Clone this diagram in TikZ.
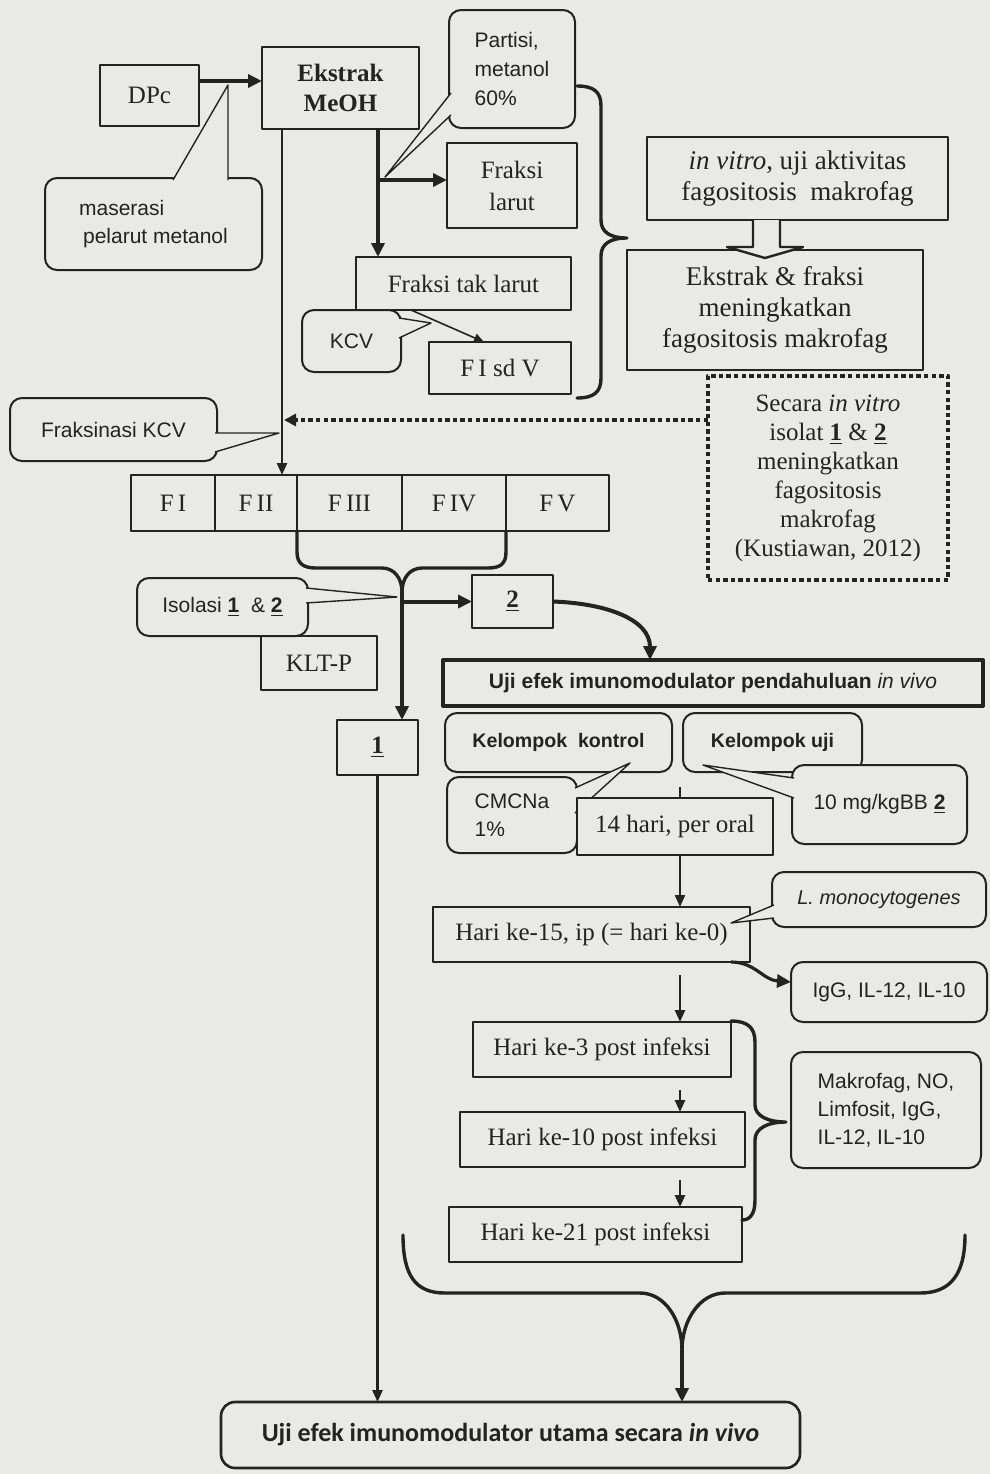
\documentclass[tikz,border=0pt]{standalone}
\usepackage{fontspec}
\setmainfont{Liberation Serif}
\setsansfont{Liberation Sans}
\newfontfamily\carlito{Carlito}
\usetikzlibrary{positioning,arrows.meta}
\definecolor{paper}{RGB}{233,233,231}
\definecolor{ink}{RGB}{35,35,35}
\newcommand\calltail[3]{\fill[paper] #1 -- #2 -- #3 -- cycle; \draw[tailline] #1 -- #2 -- #3;}

\begin{document}
\begin{tikzpicture}[x=0.5pt, y=-0.5pt, line join=round, node distance=0pt,
  every node/.style={inner sep=1pt, outer sep=0pt, align=center, text=ink},
  wh/.style 2 args={minimum width=#1*0.5pt, minimum height=#2*0.5pt},
  box/.style={rectangle, draw=ink, line width=1pt, fill=paper, font=\fontsize{12.5}{15}\selectfont},
  bigbox/.style={box, font=\fontsize{13.5}{15.5}\selectfont},
  note/.style={box, rounded corners=6pt, font=\sffamily\fontsize{10.5}{14}\selectfont},
  bnote/.style={note, font=\sffamily\bfseries\fontsize{9.8}{12}\selectfont},
  dots/.style={draw=ink, line width=2.3pt, dash pattern=on 2.2pt off 1.6pt},
  fatarrow/.style={draw=ink, line width=2pt, -{Triangle[length=7pt,width=6.5pt]}},
  midarrow/.style={draw=ink, line width=1.3pt, -{Triangle[length=6pt,width=5pt]}},
  slimarrow/.style={draw=ink, line width=0.8pt, -{Triangle[length=5pt,width=4.5pt]}},
  bracepath/.style={draw=ink, line width=1.7pt, line cap=round},
  tailline/.style={draw=ink, line width=0.7pt}]
  \fill[paper] (0,0) rectangle (990,1474);
  \useasboundingbox (0,0) rectangle (990,1474);

  \node[box, wh={99}{61}] (dpc) at (149.5,95.5) {DPc};
  \node[box, wh={157}{82}, font=\bfseries\fontsize{12.5}{15}\selectfont] (ekstrak) at (340.5,88) {Ekstrak\\MeOH};
  \node[note, wh={217}{92}, align=left] (maser) at (153.5,224) {maserasi\\\hspace*{2pt}pelarut metanol};
  \calltail{(173,180)}{(228,85)}{(228,180)}
  \node[note, wh={126}{118}, align=left, font=\sffamily\fontsize{10.5}{14.5}\selectfont] (partisi) at (512,69) {Partisi,\\metanol\\60\%};
  \calltail{(451,93)}{(385,177)}{(451,115)}
  \node[box, wh={130}{85}, font=\fontsize{12.5}{16}\selectfont] (flarut) at (512,185.5) {Fraksi\\larut};
  \node[box, wh={215}{53}] (ftak) at (463.5,283.5) {Fraksi tak larut};
  \node[note, wh={99}{62}] (kcv) at (351.5,341) {KCV};
  \calltail{(399,318)}{(431,323)}{(399,338)}
  \node[box, wh={142}{52}] (fsd) at (500,368) {F\,I sd V};

  \node[bigbox, wh={301}{83}] (invitro) at (797.5,178.5) {\textit{in vitro}, uji aktivitas\\fagositosis\ \ makrofag};
  \node[bigbox, wh={296}{120}] (ekfr) at (775,310) {Ekstrak \& fraksi\\meningkatkan\\fagositosis makrofag};
  \draw[line width=1.2pt, draw=ink, fill=paper] (753,220) -- (753,247) -- (727,247) -- (765,258) -- (803,247) -- (780,247) -- (780,220);
  \node[box, dots, wh={240}{204}, font=\fontsize{12.5}{14.5}\selectfont] (dotbox) at (828,478) {Secara \textit{in vitro}\\isolat \underline{\textbf{1}} \& \underline{\textbf{2}}\\meningkatkan\\fagositosis\\makrofag\\(Kustiawan, 2012)};

  \node[note, wh={207}{63}] (fkcv) at (113.5,429.5) {Fraksinasi KCV};
  \calltail{(215,433)}{(279,433)}{(215,452)}

  \node[box, wh={84}{56}] (f1) at (173,503) {F\,I};
  \node[box, wh={82}{56}, right=of f1] (f2) {F\,II};
  \node[box, wh={105}{56}, right=of f2] (f3) {F\,III};
  \node[box, wh={104}{56}, right=of f3] (f4) {F\,IV};
  \node[box, wh={103}{56}, right=of f4] (f5) {F\,V};

  \node[box, wh={116}{54}] (klt) at (319,663) {KLT-P};
  \node[note, wh={171}{58}] (isol) at (222.5,607) {Isolasi \underline{\textbf{1}}\ \ \& \underline{\textbf{2}}};
  \calltail{(306,588)}{(397,597)}{(306,603)}
  \node[box, wh={81}{53}] (two) at (512.5,601.5) {\underline{\textbf{2}}};
  \node[box, wh={81}{55}] (one) at (377.5,747.5) {\underline{\textbf{1}}};

  \node[box, line width=2pt, wh={540}{46}, font=\sffamily\bfseries\fontsize{10.5}{12}\selectfont] (pend) at (713,683) {Uji efek imunomodulator pendahuluan {\mdseries\itshape in vivo}};
  \node[bnote, wh={227}{59}] (kk) at (558.5,742.5) {Kelompok\ \ kontrol};
  \node[bnote, wh={179}{59}] (ku) at (772.5,742.5) {Kelompok uji};
  \node[note, wh={130}{76}, align=left] (cmc) at (512,815) {CMCNa\\1\%};
  \calltail{(575,788)}{(630,763)}{(575,813)}
  \node[note, wh={175}{79}] (dose) at (879.5,804.5) {10 mg/kgBB \underline{\textbf{2}}};
  \calltail{(794,778)}{(703,765)}{(794,798)}
  \node[box, wh={317}{55}] (h15) at (591.5,934.5) {Hari ke-15, ip (= hari ke-0)};
  \coordinate (stem) at (680,787);
  \draw[midarrow] (stem) -- (stem |- h15.north);
  \node[box, wh={196}{57}] (oral) at (675,826.5) {14 hari, per oral};
  \node[note, wh={214}{55}, font=\sffamily\itshape\fontsize{10}{12}\selectfont] (lmono) at (879,899.5) {L. monocytogenes};
  \calltail{(774,905)}{(731,923)}{(774,918)}
  \node[note, wh={196}{60}] (igg) at (889,992) {IgG, IL-12, IL-10};
  \node[box, wh={258}{55}] (h3) at (602,1049.5) {Hari ke-3 post infeksi};
  \node[box, wh={285}{55}] (h10) at (602.5,1139.5) {Hari ke-10 post infeksi};
  \node[box, wh={293}{55}] (h21) at (595.5,1234.5) {Hari ke-21 post infeksi};
  \node[note, wh={190}{116}, align=left] (makro) at (886,1110) {Makrofag, NO,\\Limfosit, IgG,\\IL-12, IL-10};
  \node[note, line width=1.3pt, rounded corners=7pt, wh={579}{66}, font=\carlito\bfseries\fontsize{13}{15}\selectfont] (utama) at (510.5,1435) {Uji efek imunomodulator utama secara \textit{in vivo}};

  \coordinate (inlet) at (230,81);
  \draw[fatarrow] (dpc.east |- inlet) -- (ekstrak.west |- inlet);
  \coordinate (split) at (378,180);
  \draw[fatarrow] (split |- ekstrak.south) -- (split |- ftak.north);
  \draw[fatarrow] (split) -- (split -| flarut.west);
  \coordinate (kcvfrom) at (411,310);
  \coordinate (kcvto) at (484,342);
  \draw[slimarrow] (kcvfrom |- ftak.south) -- (kcvto |- fsd.north);
  \coordinate (trunk) at (282,420);
  \draw[midarrow] (trunk |- ekstrak.south) -- (trunk |- f2.north);
  \draw[dots, -{Triangle[length=6pt,width=6pt]}] (dotbox.west |- trunk) -- ([xshift=1pt]trunk);

  \draw[bracepath] (577,86) .. controls (594,86) and (601,92) .. (601,106) -- (601,220) .. controls (601,232) and (610,238) .. (627,238)
    .. controls (610,238) and (601,244) .. (601,256) -- (601,378) .. controls (601,392) and (594,398) .. (577,398);

  \coordinate (cusp) at (402,592);
  \draw[bracepath] (f3.south west) -- (297,552) .. controls (297,564) and (304,568) .. (316,568) -- (382,568) .. controls (394,568) and (402,578) .. (cusp);
  \draw[bracepath] (f4.south east) -- (506,552) .. controls (506,564) and (500,568) .. (488,568) -- (422,568) .. controls (410,568) and (402,578) .. (cusp);
  \draw[fatarrow] (cusp) -- (cusp |- one.north);
  \draw[fatarrow] (cusp |- two.west) -- (two.west);
  \draw[fatarrow] (two.east) .. controls +(55,2) and +(0,-40) .. ([xshift=-31.5pt]pend.north);
  \draw[midarrow] (one.south) -- (one.south |- utama.north);

  \draw[fatarrow, line width=1.6pt] ([xshift=-9.5pt]h15.south east) .. controls +(24,0) and +(-28,-2) .. ([yshift=5pt]igg.west);
  \coordinate (s3) at (680,975);
  \draw[midarrow] (s3) -- (s3 |- h3.north);
  \coordinate (s10) at (680,1090);
  \draw[midarrow] (s10) -- (s10 |- h10.north);
  \coordinate (s21) at (680,1180);
  \draw[midarrow] (s21) -- (s21 |- h21.north);

  \draw[bracepath] (731,1021) .. controls (748,1021) and (755,1028) .. (755,1042) -- (755,1105) .. controls (755,1116) and (768,1122) .. (786,1122)
    .. controls (768,1122) and (755,1128) .. (755,1140) -- (755,1200) .. controls (755,1214) and (750,1220) .. (742,1220);

  \coordinate (cusp2) at (682,1350);
  \draw[bracepath] (403,1235) .. controls (403,1275) and (415,1293) .. (445,1293) -- (640,1293) .. controls (665,1293) and (682,1320) .. (cusp2);
  \draw[bracepath] (965,1235) .. controls (965,1275) and (950,1293) .. (920,1293) -- (725,1293) .. controls (700,1293) and (682,1320) .. (cusp2);
  \draw[fatarrow] (cusp2) -- (cusp2 |- utama.north);
\end{tikzpicture}
\end{document}
